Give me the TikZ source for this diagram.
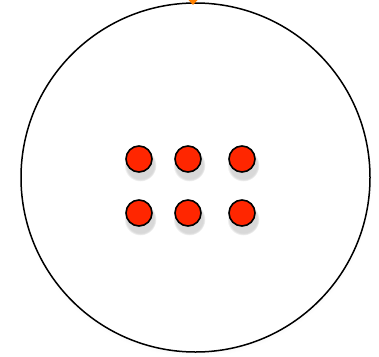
\documentclass[tikz,border=0pt]{standalone}
\usepackage{tikz}
\usetikzlibrary{shadows}
\definecolor{beadred}{RGB}{255,38,0}
\definecolor{markorange}{RGB}{255,128,0}

\begin{document}
\begin{tikzpicture}[
  x=1pt, y=-1pt,
  ring/.style={draw, circle, line width=1.5pt, minimum size=349pt, inner sep=0pt,
               fill=white, circular drop shadow={opacity=0.2, shadow scale=1.01,
               shadow xshift=0pt, shadow yshift=-3pt}},
  bead/.style={draw, circle, line width=1.6pt, minimum size=26pt, inner sep=0pt,
               fill=beadred, circular drop shadow={opacity=0.3, shadow scale=1.25,
               shadow xshift=1pt, shadow yshift=-5pt}}
]
\useasboundingbox (0,0) rectangle (379,356);

\node[ring] (plate) at (195.5,177.5) {};

% six beads, two rows
\node[bead] (b11) at (139,159) {};
\node[bead] (b12) at (188,159) {};
\node[bead] (b13) at (242,159) {};
\node[bead] (b21) at (139,213) {};
\node[bead] (b22) at (188,213) {};
\node[bead] (b23) at (242,213) {};

% marker at top of the plate
\fill[markorange] (188.5,0) -- (197.5,0) -- (193,5) -- cycle;

\end{tikzpicture}
\end{document}
